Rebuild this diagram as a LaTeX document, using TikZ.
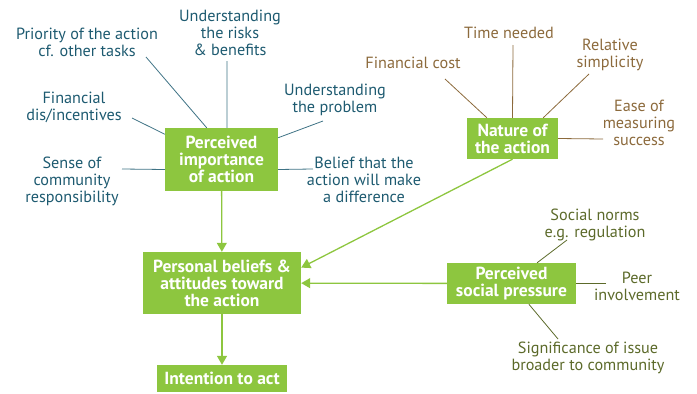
\documentclass[tikz,border=0pt]{standalone}
\usepackage{fontspec}
\setmainfont{PT Sans}
\usetikzlibrary{arrows.meta,positioning}
\definecolor{leaf}{HTML}{8DC63F}
\definecolor{ink}{HTML}{1D5A70}
\definecolor{umber}{HTML}{8C6A3C}
\definecolor{moss}{HTML}{5C6A2A}

\begin{document}
\begin{tikzpicture}[x=1pt, y=-1pt,
    box/.style={fill=leaf, text=white, align=center, inner sep=0pt,
      font=\bfseries\fontsize{17.5}{17}\selectfont},
    lab/.style={align=center, font=\fontsize{16.2}{17}\selectfont},
    flow/.style={draw=leaf, line width=1.3pt, -{Triangle[length=9pt,width=10pt]}},
    spoke/.style={line width=0.8pt}]
  \useasboundingbox (0,0) rectangle (697,394);

  % main boxes
  \node[box, minimum width=113pt, minimum height=63pt] (imp) at (221.5,159.5)
    {Perceived\\importance\\of action};
  \node[box, minimum width=91pt, minimum height=41pt] (nature) at (512.5,138.5)
    {Nature of\\the action};
  \node[box, minimum width=158pt, minimum height=62pt] (beliefs) at (222,283)
    {Personal beliefs \&\\attitudes toward\\the action};
  \node[box, minimum width=130pt, minimum height=27pt] (intent) at (222,378.5)
    {Intention to act};
  \node[box, minimum width=129pt, minimum height=41pt] (social) at (511.5,283.5)
    {Perceived\\social pressure};

  % what makes the action feel important
  \begin{scope}[every node/.style={lab, text=ink}]
    \node (prio) at (87,42) {Priority of the action\\cf. other tasks};
    \node (risks) at (230,33) {Understanding\\the risks\\\& benefits};
    \node (fin) at (74,107.5) {Financial\\dis/incentives};
    \node (problem) at (335,100) {Understanding\\the problem};
    \node (sense) at (72,181) {Sense of\\community\\responsibility};
    \node (belief) at (364,180) {Belief that the\\action will make\\a difference};
  \end{scope}
  \foreach \n/\p/\a in {prio/{146,57}/115, risks/{227,61}/80, fin/{132,118}/156,
      problem/{323,121}/21, sense/{122,169}/190, belief/{313,169}/350} {
    \coordinate (\n-tip) at (\p);
    \draw[spoke, ink!85] (\n-tip) -- (imp.\a);
  }

  % nature of the action
  \begin{scope}[every node/.style={lab, text=umber}]
    \node (cost) at (413,63) {Financial cost};
    \node (time) at (509,33) {Time needed};
    \node (simple) at (610,55) {Relative\\simplicity};
    \node (ease) at (639,123) {Ease of\\measuring\\success};
  \end{scope}
  \foreach \n/\p/\a in {cost/{445,79}/141, time/{513,45}/90,
      simple/{589,74}/34, ease/{603,139}/0} {
    \coordinate (\n-tip) at (\p);
    \draw[spoke, umber] (\n-tip) -- (nature.\a);
  }

  % social pressure
  \begin{scope}[every node/.style={lab, text=moss}]
    \node (norms) at (595,224.5) {Social norms\\e.g. regulation};
    \node (peer) at (637,286.5) {Peer\\involvement};
    \node (signif) at (588,357.5) {Significance of issue\\broader to community};
  \end{scope}
  \foreach \n/\p/\a in {norms/{567,240}/39, peer/{606,283.5}/0, signif/{558,339}/310} {
    \coordinate (\n-tip) at (\p);
    \draw[spoke, moss] (\n-tip) -- (social.\a);
  }

  % flows into beliefs and intention
  \draw[flow] (imp) -- (beliefs);
  \draw[flow] (nature.south) -- (beliefs.11);
  \draw[flow] (social) -- (beliefs);
  \draw[flow] (beliefs) -- (intent);
\end{tikzpicture}
\end{document}
